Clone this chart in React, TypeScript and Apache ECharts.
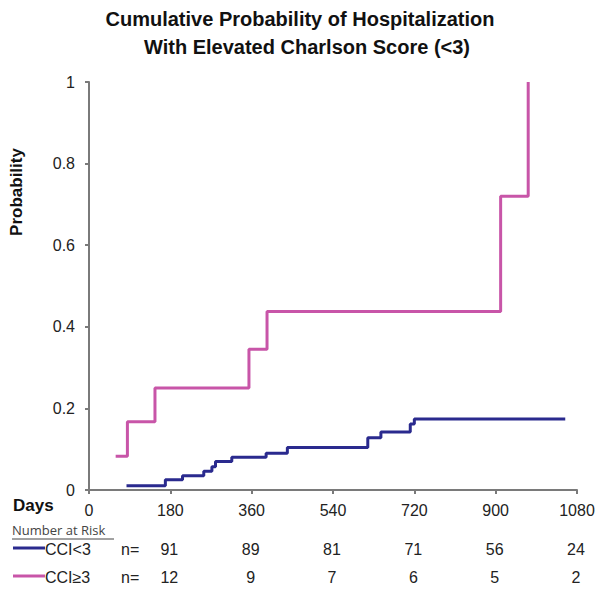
import React, { useEffect, useRef } from "react";
import * as echarts from "echarts";

const titleLines = ["Cumulative Probability of Hospitalization", "With Elevated Charlson Score (<3)"];
const groupNames = ["CCI<3", "CCI\u22653"];
const groupColors = ["#2a2a8e", "#c855a8"];
// [day, cumulative probability]
const cciLow: [number, number][] = [
  [83, 0.0105], [169, 0.025], [207, 0.035], [254, 0.046], [272, 0.057], [280, 0.07],
  [316, 0.08], [392, 0.09], [439, 0.104], [617, 0.128], [646, 0.142], [711, 0.162],
  [720, 0.174], [1054, 0.174],
];
const cciHigh: [number, number][] = [
  [59, 0.083], [85, 0.167], [146, 0.25], [354, 0.345], [394, 0.4375], [911, 0.72], [972, 1.0],
];
const riskDays = [180, 360, 540, 720, 900, 1080];
const riskLow = [91, 89, 81, 71, 56, 24];
const riskHigh = [12, 9, 7, 6, 5, 2];

export default function App() {
  const ref = useRef<HTMLDivElement>(null);
  useEffect(() => {
    if (!ref.current) return;
    const chart = echarts.init(ref.current, null, { renderer: "svg" });
    const font = "Liberation Sans, Arial, sans-serif";
    chart.setOption({
      animation: false,
      backgroundColor: "#ffffff",
      grid: { left: 89, right: 25, top: 82, bottom: 106, containLabel: false },
      xAxis: {
        type: "value", min: 0, max: 1080, interval: 180,
        axisLine: { lineStyle: { color: "#7a7a7a", width: 2 } },
        axisTick: { length: 4, lineStyle: { color: "#7a7a7a", width: 2 } },
        axisLabel: { color: "#222", fontSize: 16, fontFamily: font, margin: 12, formatter: (v: number) => String(v) },
        splitLine: { show: false },
      },
      yAxis: {
        type: "value", min: 0, max: 1, interval: 0.2,
        axisLine: { show: true, lineStyle: { color: "#7a7a7a", width: 2 } },
        axisTick: { show: true, length: 4, lineStyle: { color: "#7a7a7a", width: 2 } },
        axisLabel: { color: "#222", fontSize: 16, fontFamily: font, margin: 14,
          formatter: (v: number) => (v === 0 || v === 1 ? String(v) : String(Number(v.toFixed(1)))) },
        splitLine: { show: false },
      },
      series: [
        { type: "line", name: groupNames[0], data: cciLow, step: "end", showSymbol: false,
          lineStyle: { color: groupColors[0], width: 3 } },
        { type: "line", name: groupNames[1], data: cciHigh, step: "end", showSymbol: false,
          lineStyle: { color: groupColors[1], width: 3 } },
      ],
    });

    const xs = riskDays.map((d) => chart.convertToPixel({ xAxisIndex: 0 }, d) as number);
    const rowY = [549, 577];
    const graphics: any[] = [
      { type: "text", x: 300, y: 19, style: { text: titleLines[0], font: `bold 20px ${font}`, fill: "#111", align: "center", verticalAlign: "middle" } },
      { type: "text", x: 307, y: 47, style: { text: titleLines[1], font: `bold 20px ${font}`, fill: "#111", align: "center", verticalAlign: "middle" } },
      { type: "text", x: 16, y: 192, rotation: Math.PI / 2, style: { text: "Probability", font: `bold 17px ${font}`, fill: "#111", align: "center", verticalAlign: "middle" } },
      { type: "text", x: 13, y: 505, style: { text: "Days", font: `bold 17px ${font}`, fill: "#111", align: "left", verticalAlign: "middle" } },
      { type: "text", x: 12, y: 530, style: { text: "Number at Risk", font: `13px 'Open Sans', sans-serif`, fill: "#444", align: "left", verticalAlign: "middle" } },
      { type: "line", shape: { x1: 12, y1: 539, x2: 114, y2: 539 }, style: { stroke: "#444", lineWidth: 1 } },
    ];
    [riskLow, riskHigh].forEach((row, r) => {
      const y = rowY[r];
      graphics.push({ type: "line", shape: { x1: 13, y1: y - 1, x2: 45, y2: y - 1 }, style: { stroke: groupColors[r], lineWidth: 3 } });
      graphics.push({ type: "text", x: 45, y, style: { text: groupNames[r], font: `16px ${font}`, fill: "#222", align: "left", verticalAlign: "middle" } });
      graphics.push({ type: "text", x: 121, y, style: { text: "n=", font: `16px ${font}`, fill: "#222", align: "left", verticalAlign: "middle" } });
      row.forEach((n, i) => {
        graphics.push({ type: "text", x: xs[i] - 1, y, style: { text: String(n), font: `16px ${font}`, fill: "#222", align: "center", verticalAlign: "middle" } });
      });
    });
    chart.setOption({ graphic: graphics });
    return () => chart.dispose();
  }, []);
  return <div ref={ref} style={{ width: 602, height: 596, position: "absolute", left: 0, top: 0 }} />;
}
